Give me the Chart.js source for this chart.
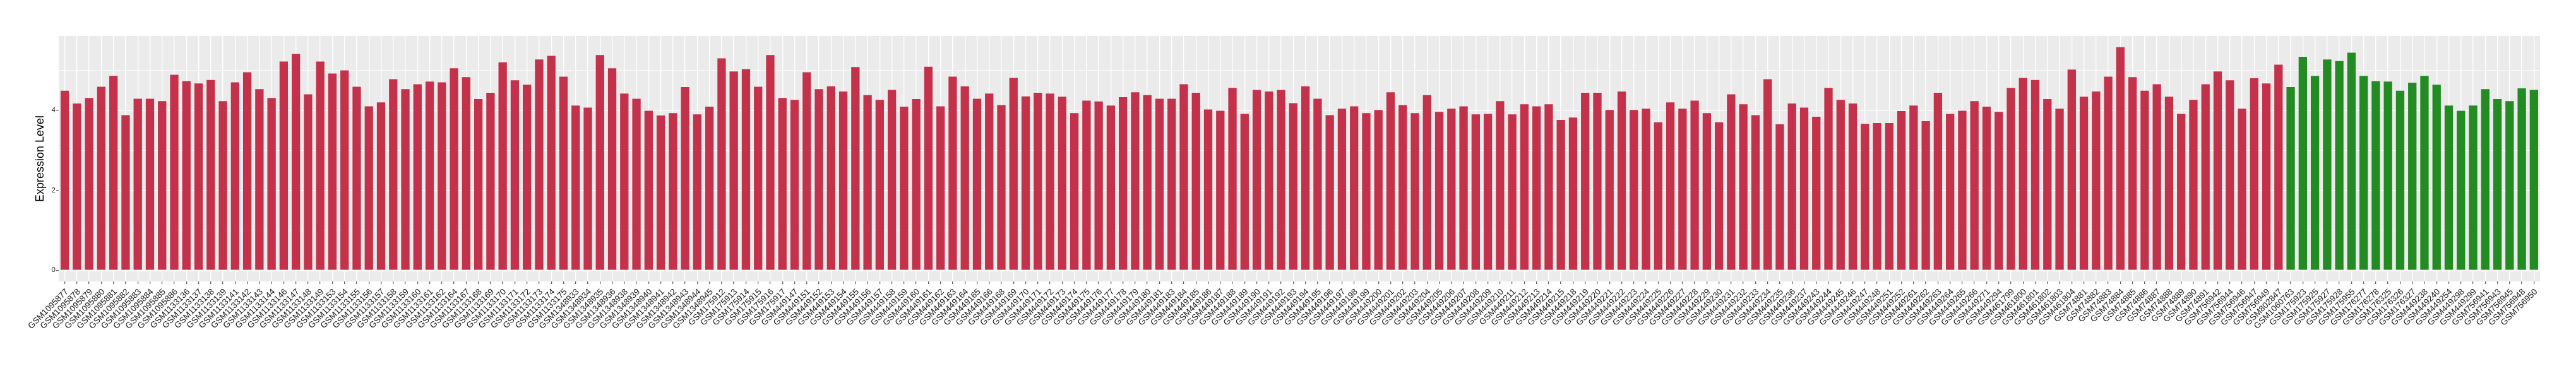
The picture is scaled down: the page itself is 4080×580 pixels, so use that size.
<!DOCTYPE html>
<html>
<head>
<meta charset="utf-8">
<script src="https://cdn.jsdelivr.net/npm/chart.js@4.4.1/dist/chart.umd.min.js"></script>
<style>
  html, body { margin: 0; padding: 0; background: #fff; }
  #wrap { width: 4080px; height: 580px; }
</style>
</head>
<body>
<div id="wrap"><canvas id="expr-chart"></canvas></div>
<script>
// tumour samples (red)
const tumorIds = [
    'GSM1095877', 'GSM1095878', 'GSM1095879', 'GSM1095880', 'GSM1095881', 'GSM1095882', 'GSM1095883', 'GSM1095884',
    'GSM1095885', 'GSM1095886', 'GSM1133136', 'GSM1133137', 'GSM1133138', 'GSM1133139', 'GSM1133141', 'GSM1133142',
    'GSM1133143', 'GSM1133144', 'GSM1133146', 'GSM1133147', 'GSM1133148', 'GSM1133149', 'GSM1133153', 'GSM1133154',
    'GSM1133155', 'GSM1133156', 'GSM1133157', 'GSM1133158', 'GSM1133159', 'GSM1133160', 'GSM1133161', 'GSM1133162',
    'GSM1133164', 'GSM1133167', 'GSM1133168', 'GSM1133169', 'GSM1133170', 'GSM1133171', 'GSM1133172', 'GSM1133173',
    'GSM1133174', 'GSM1133175', 'GSM1348933', 'GSM1348934', 'GSM1348935', 'GSM1348936', 'GSM1348938', 'GSM1348939',
    'GSM1348940', 'GSM1348941', 'GSM1348942', 'GSM1348943', 'GSM1348944', 'GSM1348945', 'GSM175912', 'GSM175913',
    'GSM175914', 'GSM175915', 'GSM175916', 'GSM175917', 'GSM449147', 'GSM449151', 'GSM449152', 'GSM449153',
    'GSM449154', 'GSM449155', 'GSM449156', 'GSM449157', 'GSM449158', 'GSM449159', 'GSM449160', 'GSM449161',
    'GSM449162', 'GSM449163', 'GSM449164', 'GSM449165', 'GSM449166', 'GSM449168', 'GSM449169', 'GSM449170',
    'GSM449171', 'GSM449172', 'GSM449173', 'GSM449174', 'GSM449175', 'GSM449176', 'GSM449177', 'GSM449178',
    'GSM449179', 'GSM449180', 'GSM449181', 'GSM449183', 'GSM449184', 'GSM449185', 'GSM449186', 'GSM449187',
    'GSM449188', 'GSM449189', 'GSM449190', 'GSM449191', 'GSM449192', 'GSM449193', 'GSM449194', 'GSM449195',
    'GSM449196', 'GSM449197', 'GSM449198', 'GSM449199', 'GSM449200', 'GSM449201', 'GSM449202', 'GSM449203',
    'GSM449204', 'GSM449205', 'GSM449206', 'GSM449207', 'GSM449208', 'GSM449209', 'GSM449210', 'GSM449211',
    'GSM449212', 'GSM449213', 'GSM449214', 'GSM449215', 'GSM449218', 'GSM449219', 'GSM449220', 'GSM449221',
    'GSM449222', 'GSM449223', 'GSM449224', 'GSM449225', 'GSM449226', 'GSM449227', 'GSM449228', 'GSM449229',
    'GSM449230', 'GSM449231', 'GSM449232', 'GSM449233', 'GSM449234', 'GSM449235', 'GSM449236', 'GSM449237',
    'GSM449243', 'GSM449244', 'GSM449245', 'GSM449246', 'GSM449247', 'GSM449248', 'GSM449251', 'GSM449252',
    'GSM449261', 'GSM449262', 'GSM449263', 'GSM449264', 'GSM449265', 'GSM449266', 'GSM449271', 'GSM449294',
    'GSM461799', 'GSM461800', 'GSM461801', 'GSM461802', 'GSM461803', 'GSM461804', 'GSM74881', 'GSM74882',
    'GSM74883', 'GSM74884', 'GSM74885', 'GSM74886', 'GSM74887', 'GSM74888', 'GSM74889', 'GSM74890',
    'GSM74891', 'GSM756942', 'GSM756944', 'GSM756946', 'GSM756947', 'GSM756949', 'GSM802847'
];
const tumorValues = [
    4.49, 4.17, 4.31, 4.59, 4.86, 3.88, 4.29, 4.29, 4.23, 4.89, 4.73, 4.67, 4.76, 4.23, 4.70, 4.95,
    4.53, 4.31, 5.22, 5.41, 4.40, 5.22, 4.92, 5.00, 4.59, 4.10, 4.20, 4.78, 4.53, 4.65, 4.72, 4.70,
    5.05, 4.83, 4.28, 4.44, 5.20, 4.75, 4.64, 5.27, 5.36, 4.84, 4.12, 4.07, 5.38, 5.05, 4.42, 4.29,
    3.99, 3.87, 3.93, 4.58, 3.90, 4.09, 5.30, 4.97, 5.03, 4.59, 5.38, 4.31, 4.26, 4.95, 4.53, 4.60,
    4.47, 5.08, 4.38, 4.26, 4.51, 4.09, 4.28, 5.09, 4.10, 4.84, 4.60, 4.29, 4.42, 4.13, 4.81, 4.35,
    4.44, 4.42, 4.34, 3.93, 4.24, 4.22, 4.12, 4.33, 4.45, 4.38, 4.29, 4.29, 4.65, 4.44, 4.02, 3.99,
    4.56, 3.91, 4.51, 4.47, 4.51, 4.18, 4.60, 4.29, 3.88, 4.04, 4.10, 3.93, 4.01, 4.45, 4.13, 3.93,
    4.38, 3.96, 4.04, 4.10, 3.90, 3.91, 4.23, 3.90, 4.15, 4.10, 4.15, 3.76, 3.82, 4.44, 4.44, 4.01,
    4.47, 4.01, 4.04, 3.70, 4.20, 4.04, 4.24, 3.93, 3.70, 4.40, 4.15, 3.88, 4.78, 3.65, 4.17, 4.07,
    3.84, 4.56, 4.26, 4.17, 3.66, 3.68, 3.68, 3.98, 4.12, 3.73, 4.44, 3.91, 3.99, 4.23, 4.09, 3.96,
    4.56, 4.81, 4.76, 4.28, 4.04, 5.02, 4.34, 4.47, 4.84, 5.58, 4.83, 4.49, 4.65, 4.34, 3.91, 4.26,
    4.65, 4.97, 4.75, 4.04, 4.80, 4.67, 5.14
];

// normal samples (green)
const normalIds = [
    'GSM1060763', 'GSM175923', 'GSM175925', 'GSM175927', 'GSM175928', 'GSM175955', 'GSM176277',
    'GSM176278', 'GSM176325', 'GSM176326', 'GSM176327', 'GSM449238', 'GSM449240', 'GSM449254',
    'GSM449298', 'GSM449299', 'GSM756941', 'GSM756943', 'GSM756945', 'GSM756948', 'GSM756950'
];
const normalValues = [
    4.58, 5.34, 4.86, 5.27, 5.23, 5.44, 4.86, 4.73, 4.72, 4.49, 4.69, 4.86, 4.64, 4.12,
    3.99, 4.12, 4.53, 4.28, 4.23, 4.55, 4.51
];

const yGridValues = [0, 1, 2, 3, 4, 5];
const yTickLabels = [0, 2, 4];

const tumorColor = '#C3314A';
const normalColor = '#228B22';
const fontFamily = '"Liberation Sans", Arial, Helvetica, sans-serif';

let labels = tumorIds.concat(normalIds);
let values = tumorValues.concat(normalValues);
let colors = tumorIds.map(() => tumorColor).concat(normalIds.map(() => normalColor));

// ggplot style 5% expansion of the value range
let vMax = Math.max(...values);
let yPad = vMax * 0.05;

// grey panel behind the grid
const panelBg = {
    id: 'panelBg',
    beforeDraw(chart) {
        const a = chart.chartArea;
        const ctx = chart.ctx;
        ctx.save();
        ctx.fillStyle = '#EBEBEB';
        ctx.fillRect(a.left, a.top, a.right - a.left, a.bottom - a.top);
        ctx.restore();
    }
};

let ctx = document.getElementById('expr-chart').getContext('2d');

new Chart(ctx, {
    type: 'bar',
    data: {
        labels: labels,
        datasets: [{
            data: values,
            backgroundColor: colors,
            borderWidth: 0,
            categoryPercentage: 1,
            barPercentage: 0.69
        }]
    },
    plugins: [panelBg],
    options: {
        responsive: true,
        maintainAspectRatio: false,
        animation: false,
        layout: {
            padding: { top: 57, right: 57, bottom: 0, left: 0 }
        },
        plugins: {
            legend: { display: false },
            tooltip: { enabled: false }
        },
        scales: {
            x: {
                offset: true,
                grid: {
                    offset: false,
                    color: '#FFFFFF',
                    lineWidth: 1.4,
                    tickLength: 4,
                    tickColor: '#333333',
                    tickWidth: 1
                },
                border: { display: false },
                ticks: {
                    autoSkip: false,
                    minRotation: 45,
                    maxRotation: 45,
                    padding: 4.5,
                    labelOffset: 3.5,
                    color: '#1A1A1A',
                    font: { family: fontFamily, size: 13.5 }
                },
                afterFit(scale) {
                    scale.height = 134;
                }
            },
            y: {
                min: -yPad,
                max: vMax + yPad,
                afterBuildTicks(scale) {
                    scale.ticks = yGridValues.map(v => ({ value: v }));
                },
                grid: {
                    color: '#FFFFFF',
                    lineWidth: c => (yTickLabels.includes(c.tick.value) ? 1.4 : 0.8),
                    tickLength: 4,
                    tickColor: c => (yTickLabels.includes(c.tick.value) ? '#333333' : 'rgba(0,0,0,0)'),
                    tickWidth: 1
                },
                border: { display: false },
                ticks: {
                    padding: 1,
                    color: '#1A1A1A',
                    font: { family: fontFamily, size: 11.5 },
                    callback: v => (yTickLabels.includes(v) ? String(v) : '')
                },
                title: {
                    display: true,
                    text: 'Expression Level',
                    color: '#000000',
                    font: { family: fontFamily, size: 18 },
                    padding: { top: 53, bottom: 0 }
                },
                afterFit(scale) {
                    scale.width = 93;
                }
            }
        }
    }
});
</script>
</body>
</html>
